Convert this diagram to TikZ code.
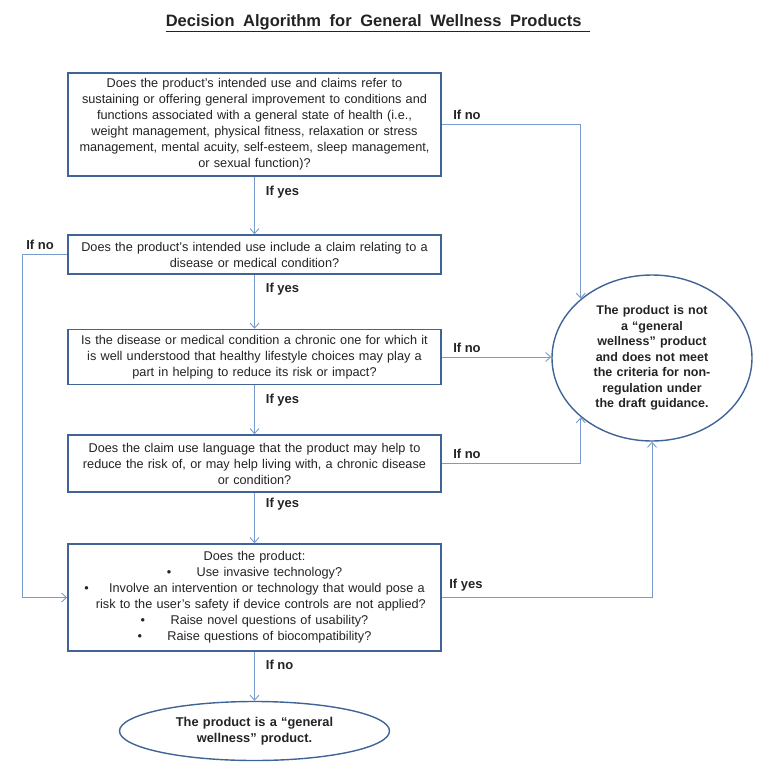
\documentclass[tikz,border=0pt]{standalone}
\usepackage{fontspec}
\setmainfont{Liberation Sans}
\usetikzlibrary{arrows.meta,shapes.geometric}
\definecolor{boxline}{RGB}{64,100,150}
\definecolor{flowline}{RGB}{120,155,205}
\definecolor{txt}{RGB}{35,35,35}

\tikzset{
  question/.style={draw=boxline, line width=1.6pt, minimum width=373pt, text width=368pt,
    align=center, inner sep=0pt, font=\fontsize{12.7}{16}\selectfont, text=txt},
  answer/.style={font=\bfseries\fontsize{13}{15}\selectfont, text=txt, inner sep=1pt},
  flow/.style={flowline, line width=0.9pt, -{Straight Barb[length=5pt,width=9pt]}},
  result/.style={ellipse, draw=boxline, line width=1.4pt, align=center, inner sep=0pt,
    font=\bfseries\fontsize{12.5}{15.5}\selectfont, text=txt}
}

\begin{document}
\begin{tikzpicture}[x=1pt,y=-1pt]
  \useasboundingbox (0,0) rectangle (770,776);

  %# TITLE
  \node[font=\bfseries\fontsize{16.5}{19}\selectfont, text=txt] (title) at (378,23)
    {\spaceskip=0.52em\underline{Decision Algorithm for General Wellness Products\ }};

  %# QUESTIONS
  \node[question, minimum height=103pt] (q1) at (254.5,124.5)
    {Does the product’s intended use and claims refer to\\
     sustaining or offering general improvement to conditions and\\
     functions associated with a general state of health (i.e.,\\
     weight management, physical fitness, relaxation or stress\\
     management, mental acuity, self-esteem, sleep management,\\
     or sexual function)?};
  \node[question, minimum height=39pt] (q2) at (254.5,254.5)
    {Does the product’s intended use include a claim relating to a\\
     disease or medical condition?};
  \node[question, minimum height=55pt] (q3) at (254.5,357)
    {Is the disease or medical condition a chronic one for which it\\
     is well understood that healthy lifestyle choices may play a\\
     part in helping to reduce its risk or impact?};
  \node[question, minimum height=57pt] (q4) at (254.5,463.5)
    {Does the claim use language that the product may help to\\
     reduce the risk of, or may help living with, a chronic disease\\
     or condition?};
  \node[question, minimum height=107pt] (q5) at (254.5,597.5)
    {Does the product:\\
     \textbullet\hspace{2em}Use invasive technology?\\
     \textbullet\hspace{1.6em}Involve an intervention or technology that would pose a\\
     \hspace{1em}risk to the user’s safety if device controls are not applied?\\
     \textbullet\hspace{2em}Raise novel questions of usability?\\
     \textbullet\hspace{2em}Raise questions of biocompatibility?};

  %# RESULTS
  \node[result, minimum width=200pt, minimum height=166pt, text width=140pt] (nogw) at (652,358)
    {The product is not\\ a ``general\\ wellness'' product\\ and does not meet\\
     the criteria for non-\\ regulation under\\ the draft guidance.};
  \node[result, minimum width=270pt, minimum height=59pt, text width=180pt,
    font=\bfseries\fontsize{12.8}{16}\selectfont] (gw) at (254.5,731)
    {The product is a ``general\\ wellness'' product.};

  %# YES BRANCHES
  \draw[flow] (q1) -- node[answer, pos=0, anchor=north west, xshift=10pt, yshift=-8pt] {If yes} (q2);
  \draw[flow] (q2) -- node[answer, pos=0, anchor=north west, xshift=10pt, yshift=-7pt] {If yes} (q3);
  \draw[flow] (q3) -- node[answer, pos=0, anchor=north west, xshift=10pt, yshift=-7pt] {If yes} (q4);
  \draw[flow] (q4) -- node[answer, pos=0, anchor=north west, xshift=10pt, yshift=-4pt] {If yes} (q5);
  \draw[flow] (q5) -- node[answer, pos=0, anchor=north west, xshift=10pt, yshift=-7pt] {If no} (gw);

  %# NO BRANCHES
  \draw[flow] (q1.east) -| node[answer, pos=0, anchor=south west, xshift=10pt, yshift=3pt] {If no} (nogw.north west);
  \draw[flow] (q3.east) -- node[answer, pos=0, anchor=south west, xshift=10pt, yshift=3pt] {If no} (q3.east -| nogw.west);
  \draw[flow] (q4.east) -| node[answer, pos=0, anchor=south west, xshift=10pt, yshift=3pt] {If no} (nogw.south west);
  \draw[flow] (q5.east) -| node[answer, pos=0, anchor=south west, xshift=6pt, yshift=5pt] {If yes} (nogw.south);
  \coordinate (leftturn) at (22,254.5);
  \draw[flow] (q2.west) -- node[answer, pos=0, anchor=south east, xshift=-12pt, yshift=3pt] {If no} (leftturn) |- (q5.west);
\end{tikzpicture}
\end{document}
